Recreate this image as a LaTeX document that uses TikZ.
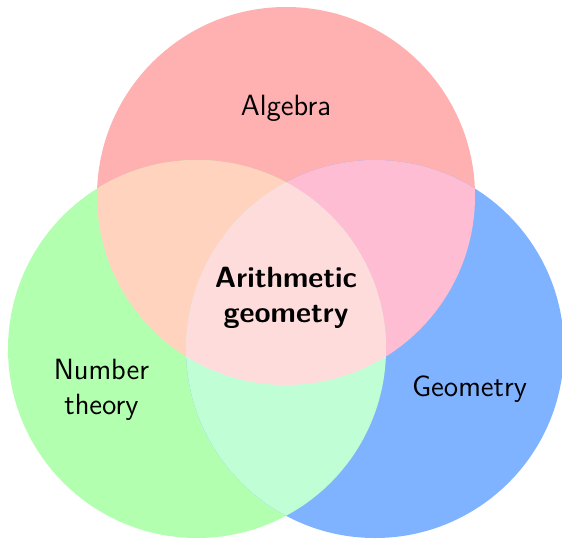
\documentclass[tikz,border=0pt]{standalone}
\definecolor{cR}{HTML}{FFB0B0}
\definecolor{cG}{HTML}{B3FFB0}
\definecolor{cB}{HTML}{80B3FF}
\definecolor{cRG}{HTML}{FFD3BE}
\definecolor{cRB}{HTML}{FFBDD4}
\definecolor{cGB}{HTML}{C0FFD6}
\definecolor{cRGB}{HTML}{FFDCDC}
\begin{document}
\begin{tikzpicture}[x=1pt,y=-1pt,
  lbl/.style={font=\fontsize{12}{14.2}\selectfont\sffamily, align=center, inner sep=0pt, scale=2.44, transform shape},
  blbl/.style={lbl, font=\fontsize{12}{14.2}\selectfont\sffamily\bfseries}]
\useasboundingbox (0,0) rectangle (562,538);
\coordinate (r) at (286,196);
\coordinate (g) at (197,349);
\coordinate (b) at (375,349);
\def\rad{189}
\fill[cR] (r) circle (\rad);
\fill[cG] (g) circle (\rad);
\fill[cB] (b) circle (\rad);
\begin{scope}
  \clip (r) circle (\rad);
  \fill[cRG] (g) circle (\rad);
  \fill[cRB] (b) circle (\rad);
\end{scope}
\begin{scope}
  \clip (g) circle (\rad);
  \fill[cGB] (b) circle (\rad);
  \clip (r) circle (\rad);
  \fill[cRGB] (b) circle (\rad);
\end{scope}
\node[lbl, anchor=base] (alg) at (286,115) {Algebra};
\node[lbl] (nt) at (101.5,390) {Number\\theory};
\node[lbl, anchor=base] (geo) at (469.5,396.5) {Geometry};
\node[blbl] (ag) at (286,298) {Arithmetic\\geometry};
\end{tikzpicture}
\end{document}
